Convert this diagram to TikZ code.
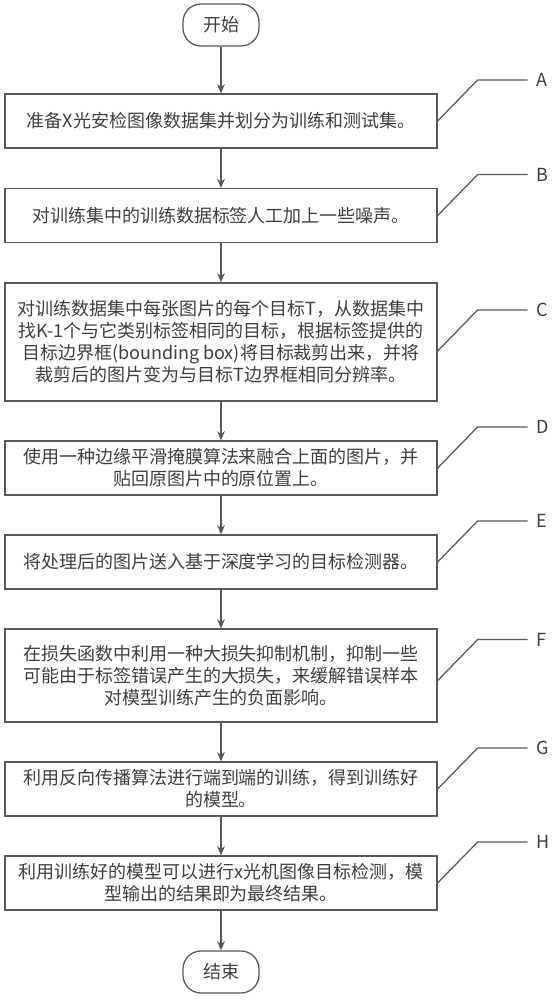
\documentclass[tikz,border=0pt]{standalone}
\usepackage{fontspec}
\setmainfont{Noto Sans CJK SC}
\usetikzlibrary{arrows.meta}
\definecolor{linegray}{RGB}{88,88,88}
\definecolor{textgray}{RGB}{62,62,62}
\tikzset{
  stepbox/.style={draw=linegray, line width=0.9pt, text=textgray, align=center,
    minimum width=10.8cm, minimum height=1.35cm, inner sep=0pt,
    font=\fontsize{12.8pt}{15.6pt}\selectfont},
  termbox/.style={draw=linegray, line width=0.9pt, text=textgray,
    rounded corners=0.45cm, minimum width=1.9cm, minimum height=1.05cm,
    font=\fontsize{12.8pt}{15.6pt}\selectfont},
  tag/.style={text=textgray, anchor=west, inner sep=0.22cm,
    font=\fontsize{12.8pt}{15.6pt}\selectfont},
  flow/.style={draw=linegray, line width=0.9pt, ->},
  lead/.style={draw=linegray, line width=0.9pt},
}
\begin{document}
\begin{tikzpicture}[>={Stealth[length=6.5pt,width=5.5pt]}]
        \useasboundingbox (0,0) rectangle (13.825,25);
        % Defining the coordinates
        \coordinate (S) at (5.525, 24.375);
        \coordinate (A) at (5.525, 21.975);
        \coordinate (B) at (5.525, 19.61);
        \coordinate (C) at (5.525, 16.45);
        \coordinate (D) at (5.525, 13.3);
        \coordinate (E) at (5.525, 10.95);
        \coordinate (F) at (5.525, 8.11);
        \coordinate (G) at (5.525, 5.275);
        \coordinate (H) at (5.525, 2.925);
        \coordinate (Z) at (5.525, 0.7);

        % Adding the boxes
        \node[termbox] (s) at (S) {开始};
        \node[stepbox] (a) at (A) {准备X光安检图像数据集并划分为训练和测试集。};
        \node[stepbox] (b) at (B) {对训练集中的训练数据标签人工加上一些噪声。};
        \node[stepbox, minimum height=2.95cm] (c) at (C) {对训练数据集中每张图片的每个目标T，从数据集中\\找K-1个与它类别标签相同的目标，根据标签提供的\\目标边界框(bounding box)将目标裁剪出来，并将\\裁剪后的图片变为与目标T边界框相同分辨率。};
        \node[stepbox] (d) at (D) {使用一种边缘平滑掩膜算法来融合上面的图片，并\\贴回原图片中的原位置上。};
        \node[stepbox] (e) at (E) {将处理后的图片送入基于深度学习的目标检测器。};
        \node[stepbox, minimum height=2.325cm] (f) at (F) {在损失函数中利用一种大损失抑制机制，抑制一些\\可能由于标签错误产生的大损失，来缓解错误样本\\对模型训练产生的负面影响。};
        \node[stepbox] (g) at (G) {利用反向传播算法进行端到端的训练，得到训练好\\的模型。};
        \node[stepbox] (h) at (H) {利用训练好的模型可以进行x光机图像目标检测，模\\型输出的结果即为最终结果。};
        \node[termbox] (z) at (Z) {结束};

        % Drawing lines with arrows
        \draw[flow] (s) -- (a);
        \draw[flow] (a) -- (b);
        \draw[flow] (b) -- (c);
        \draw[flow] (c) -- (d);
        \draw[flow] (d) -- (e);
        \draw[flow] (e) -- (f);
        \draw[flow] (f) -- (g);
        \draw[flow] (g) -- (h);
        \draw[flow] (h) -- (z);

        % Adding labels
        \node[tag] (la) at ([shift={(2.25,1.025)}]a.east) {A};
        \node[tag] (lb) at ([shift={(2.25,1.025)}]b.east) {B};
        \node[tag] (lc) at ([shift={(2.25,0.8)}]c.east) {C};
        \node[tag] (ld) at ([shift={(2.25,1.025)}]d.east) {D};
        \node[tag] (le) at ([shift={(2.25,1.025)}]e.east) {E};
        \node[tag] (lf) at ([shift={(2.25,0.9)}]f.east) {F};
        \node[tag] (lg) at ([shift={(2.25,1.025)}]g.east) {G};
        \node[tag] (lh) at ([shift={(2.25,1.025)}]h.east) {H};
        \draw[lead] (a.east) -- ++(1,1.025) -- (la.west);
        \draw[lead] (b.east) -- ++(1,1.025) -- (lb.west);
        \draw[lead] ([yshift=-0.225cm]c.east) -- ++(1,1.025) -- (lc.west);
        \draw[lead] ([yshift=-0.125cm]f.east) -- ++(1,1.025) -- (lf.west);
        \draw[lead] (d.east) -- ++(1,1.025) -- (ld.west);
        \draw[lead] (e.east) -- ++(1,1.025) -- (le.west);
        \draw[lead] (g.east) -- ++(1,1.025) -- (lg.west);
        \draw[lead] (h.east) -- ++(1,1.025) -- (lh.west);
    \end{tikzpicture}
\end{document}
